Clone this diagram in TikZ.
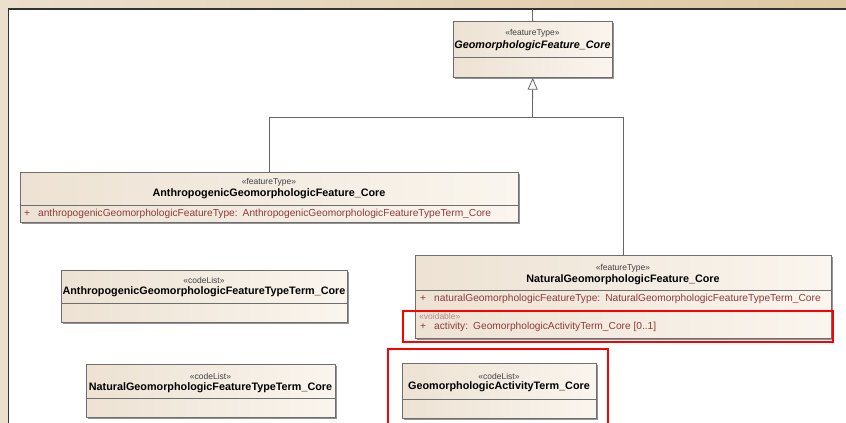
\documentclass[tikz,border=0pt]{standalone}
\usepackage{fontspec}
\setmainfont{Liberation Sans}
\usetikzlibrary{positioning}
\usetikzlibrary{calc}
\usetikzlibrary{arrows.meta}
\usetikzlibrary{shadows}
\definecolor{bandL}{HTML}{EBE0CD}
\definecolor{bandR}{HTML}{DDC8A2}
\definecolor{boxL}{HTML}{EDE2D3}
\definecolor{boxR}{HTML}{FAF5EE}
\definecolor{edge}{HTML}{6E6E6E}
\definecolor{attr}{HTML}{8E3B3B}
\definecolor{voidc}{HTML}{B98585}

\begin{document}
\begin{tikzpicture}[x=1pt,y=-1pt,
    cls/.style={draw=edge,line width=0.7pt,left color=boxL,right color=boxR,anchor=north west,inner sep=0pt,
      drop shadow={shadow xshift=1.5pt,shadow yshift=-1.5pt,fill=black!60,opacity=.7}},
    stereo/.style={font=\fontsize{8.5}{10}\selectfont,text=black!75,inner sep=0pt},
    cname/.style={font=\fontsize{10.8}{12}\selectfont\bfseries,inner sep=0pt},
    attrib/.style={font=\fontsize{10.2}{12}\selectfont,text=attr,anchor=west,inner sep=0pt},
    sep/.style={draw=edge,line width=0.6pt},
    conn/.style={draw=black!60,line width=0.8pt},
    hilite/.style={draw=red,line width=2.4pt}]
    \useasboundingbox (0,0) rectangle (846,423);
    \fill[left color=bandL,right color=bandR] (0,0) rectangle (846,423);
    \fill[white] (8,9) rectangle (846,423);
    \draw[black!80,line width=1.2pt] (8.5,423) -- (8.5,9) -- (846,9);

    \node[cls,minimum width=159pt,minimum height=56pt] (gf) at (453,21) {};
    \node[stereo] (gf-st) at (532.5,33) {«featureType»};
    \node[cname] (gf-nm) at (532.5,46) {\itshape GeomorphologicFeature\_Core};
    \draw[sep] (gf.west |- 0,57) -- (gf.east |- 0,57);

    \node[cls,minimum width=498pt,minimum height=50pt] (af) at (20,172) {};
    \node[stereo] (af-st) at (269,182) {«featureType»};
    \node[cname] (af-nm) at (269,194) {AnthropogenicGeomorphologicFeature\_Core};
    \draw[sep] (af.west |- 0,205) -- (af.east |- 0,205);
    \node[attrib] (af-a1) at (24,214) {+\hspace{8pt}anthropogenicGeomorphologicFeatureType:\hspace{5pt}AnthropogenicGeomorphologicFeatureTypeTerm\_Core};

    \node[cls,minimum width=416pt,minimum height=83pt] (nf) at (415,255) {};
    \node[stereo] (nf-st) at (623,268) {«featureType»};
    \node[cname] (nf-nm) at (623,280) {NaturalGeomorphologicFeature\_Core};
    \draw[sep] (nf.west |- 0,290) -- (nf.east |- 0,290);
    \node[attrib] (nf-a1) at (420,299) {+\hspace{8pt}naturalGeomorphologicFeatureType:\hspace{5pt}NaturalGeomorphologicFeatureTypeTerm\_Core};
    \node[attrib,text=voidc,font=\fontsize{8.5}{10}\selectfont] (nf-vo) at (419,316) {«voidable»};
    \node[attrib] (nf-a2) at (420,327) {+\hspace{8pt}activity:\hspace{5pt}GeomorphologicActivityTerm\_Core [0..1]};

    \node[cls,minimum width=286pt,minimum height=52pt] (at) at (61,270) {};
    \node[stereo] (at-st) at (204,280) {«codeList»};
    \node[cname] (at-nm) at (204,292) {AnthropogenicGeomorphologicFeatureTypeTerm\_Core};
    \draw[sep] (at.west |- 0,303) -- (at.east |- 0,303);

    \node[cls,minimum width=249pt,minimum height=53pt] (nt) at (86,364) {};
    \node[stereo] (nt-st) at (210.5,376) {«codeList»};
    \node[cname] (nt-nm) at (210.5,388) {NaturalGeomorphologicFeatureTypeTerm\_Core};
    \draw[sep] (nt.west |- 0,398) -- (nt.east |- 0,398);

    \node[cls,minimum width=194pt,minimum height=55pt] (ga) at (402,363) {};
    \node[stereo] (ga-st) at (499,376) {«codeList»};
    \node[cname] (ga-nm) at (499,387) {GeomorphologicActivityTerm\_Core};
    \draw[sep] (ga.west |- 0,399) -- (ga.east |- 0,399);

    \coordinate (up) at (532.5,9);
    \coordinate (hub) at (532.5,117);
    \draw[conn] (up) -- (gf);
    \draw[conn,-{Triangle[open,length=12pt,width=10pt,fill=white]}] (hub) -- (gf);
    \draw[conn] (af.north) |- (hub);
    \draw[conn] (nf.north) |- (hub);

    \draw[hilite] (403,311) rectangle (833,342);
    \draw[hilite] (388,349) rectangle (608,430);
\end{tikzpicture}
\end{document}
